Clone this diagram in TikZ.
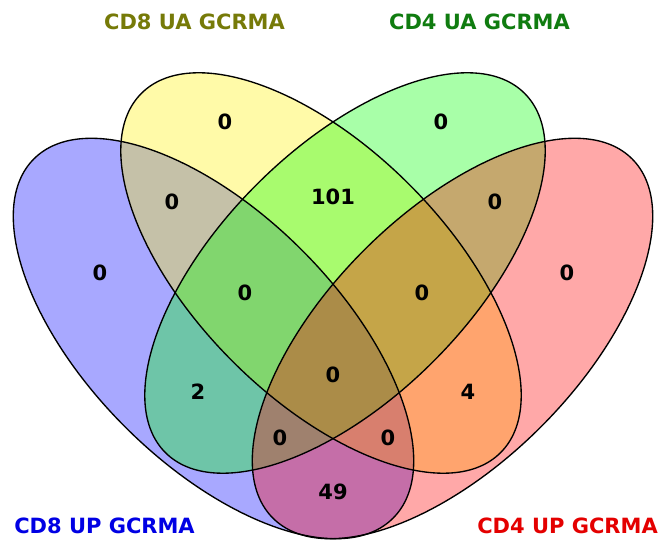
\documentclass[tikz,border=0pt]{standalone}
\usepackage{fontspec}
\setmainfont{DejaVu Sans}
\begin{document}
\begin{tikzpicture}[
  setfill/.style={fill=#1, fill opacity=0.34, draw=none},
  setline/.style={draw=black, line width=1.35pt},
  num/.style={font=\fontsize{21}{25}\selectfont\bfseries, text=black, inner sep=0pt},
  cat/.style={font=\fontsize{21}{25}\selectfont\bfseries, inner sep=0pt}
]
\useasboundingbox (0,0) rectangle (658pt,540pt);
\fill[white] (0,0) rectangle (658pt,540pt);
% centres (pixel y flipped)
\coordinate (cB) at (213.5pt,201.5pt);
\coordinate (cY) at (321pt,267pt);
\coordinate (cG) at (345pt,267pt);
\coordinate (cR) at (452.5pt,201.5pt);
\def\ra{254pt}
\def\rb{125pt}
% fills
\path[setfill=blue, rotate around={-45:(cB)}] (cB) ellipse [x radius=\ra, y radius=\rb];
\path[setfill=yellow, rotate around={-45:(cY)}] (cY) ellipse [x radius=\ra, y radius=\rb];
\path[setfill=green, rotate around={45:(cG)}] (cG) ellipse [x radius=\ra, y radius=\rb];
\path[setfill=red, rotate around={45:(cR)}] (cR) ellipse [x radius=\ra, y radius=\rb];
% outlines
\draw[setline, rotate around={-45:(cB)}] (cB) ellipse [x radius=\ra, y radius=\rb];
\draw[setline, rotate around={-45:(cY)}] (cY) ellipse [x radius=\ra, y radius=\rb];
\draw[setline, rotate around={45:(cG)}] (cG) ellipse [x radius=\ra, y radius=\rb];
\draw[setline, rotate around={45:(cR)}] (cR) ellipse [x radius=\ra, y radius=\rb];
% region counts
\node[num] (nY)    at (225pt,418pt) {0};
\node[num] (nG)    at (441pt,418pt) {0};
\node[num] (nB)    at (100pt,267pt) {0};
\node[num] (nR)    at (567pt,267pt) {0};
\node[num] (nBY)   at (172pt,338pt) {0};
\node[num] (nGR)   at (495pt,338pt) {0};
\node[num] (nYG)   at (333pt,343pt) {101};
\node[num] (nBYG)  at (245pt,247pt) {0};
\node[num] (nYGR)  at (422pt,247pt) {0};
\node[num] (nAll)  at (333pt,165pt) {0};
\node[num] (nBG)   at (198pt,148pt) {2};
\node[num] (nYR)   at (468pt,148pt) {4};
\node[num] (nBGR)  at (280pt,102pt) {0};
\node[num] (nBYR)  at (388pt,102pt) {0};
\node[num] (nBR)   at (333pt,48pt) {49};
% category labels
\node[cat, text={rgb,255:red,118;green,122;blue,8}] (lY) at (194.5pt,518pt) {CD8 UA GCRMA};
\node[cat, text={rgb,255:red,16;green,124;blue,16}] (lG) at (479.5pt,518pt) {CD4 UA GCRMA};
\node[cat, text={rgb,255:red,0;green,0;blue,228}] (lB) at (104.5pt,14pt) {CD8 UP GCRMA};
\node[cat, text={rgb,255:red,228;green,0;blue,0}] (lR) at (567.5pt,14pt) {CD4 UP GCRMA};
\end{tikzpicture}
\end{document}
